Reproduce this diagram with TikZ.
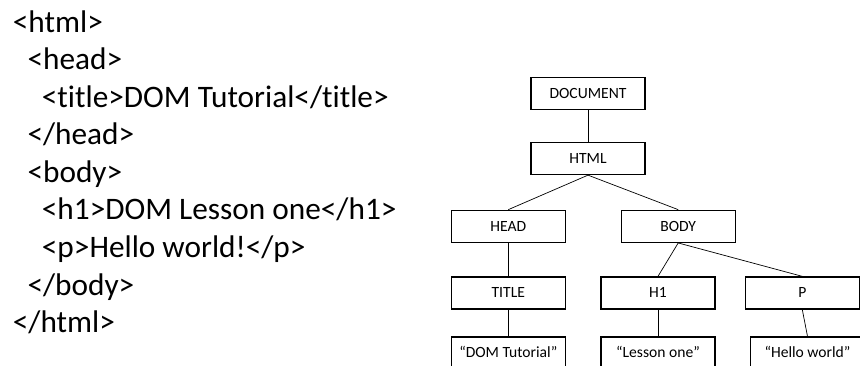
\documentclass[tikz,border=0pt]{standalone}
\usepackage{fontspec}
\setmainfont{Carlito}[Ligatures=NoCommon]
\begin{document}
\begin{tikzpicture}[x=1pt,y=-1pt,
  box/.style={draw, line width=1.3pt, minimum width=114pt, minimum height=32pt,
              inner sep=0pt, font=\fontsize{15.6}{18}\selectfont,
              text height=9.8pt, text depth=0pt},
  link/.style={line width=0.7pt},
  code/.style={anchor=base west, inner sep=0pt, font=\fontsize{31.3}{36}\selectfont}]
\useasboundingbox (0,0) rectangle (860,366);
\clip (0,0) rectangle (860,366);

% HTML source listing
\node[code] (l1) at (12.7,32.3)  {<html>};
\node[code] (l2) at (27.3,70)    {<head>};
\node[code] (l3) at (41.7,107.5) {<title>DOM Tutorial</title>};
\node[code] (l4) at (27.3,145)   {</head>};
\node[code] (l5) at (27.3,182.5) {<body>};
\node[code] (l6) at (41.7,220)   {<h1>DOM Lesson one</h1>};
\node[code] (l7) at (41.7,257.5) {<p>Hello world!</p>};
\node[code] (l8) at (27.3,295)   {</body>};
\node[code] (l9) at (12.7,332.5) {</html>};

% DOM tree
\node[box] (doc)   at (588,93.8)    {DOCUMENT};
\node[box] (html)  at (588,158.5)   {HTML};
\node[box] (head)  at (508.3,226.3) {HEAD};
\node[box] (body)  at (678.2,226.3) {BODY};
\node[box] (title) at (508.3,293)   {TITLE};
\node[box] (h1)    at (658,293)     {H1};
\node[box] (p)     at (802.3,293)   {P};
\node[box] (t1)    at (508.3,353)   {“DOM Tutorial”};
\node[box] (t2)    at (658,353)     {“Lesson one”};
\node[box] (t3)    at (807.5,353)   {“Hello world”};

\draw[link] (doc.south) -- (html.north);
\draw[link] (html.south) -- (head.north);
\draw[link] (html.south) -- (body.north);
\draw[link] (head.south) -- (title.north);
\draw[link] (body.south) -- (h1.north);
\draw[link] (body.south) -- (p.north);
\draw[link] (title.south) -- (t1.north);
\draw[link] (h1.south) -- (t2.north);
\draw[link] (p.south) -- (t3.north);
\end{tikzpicture}
\end{document}
